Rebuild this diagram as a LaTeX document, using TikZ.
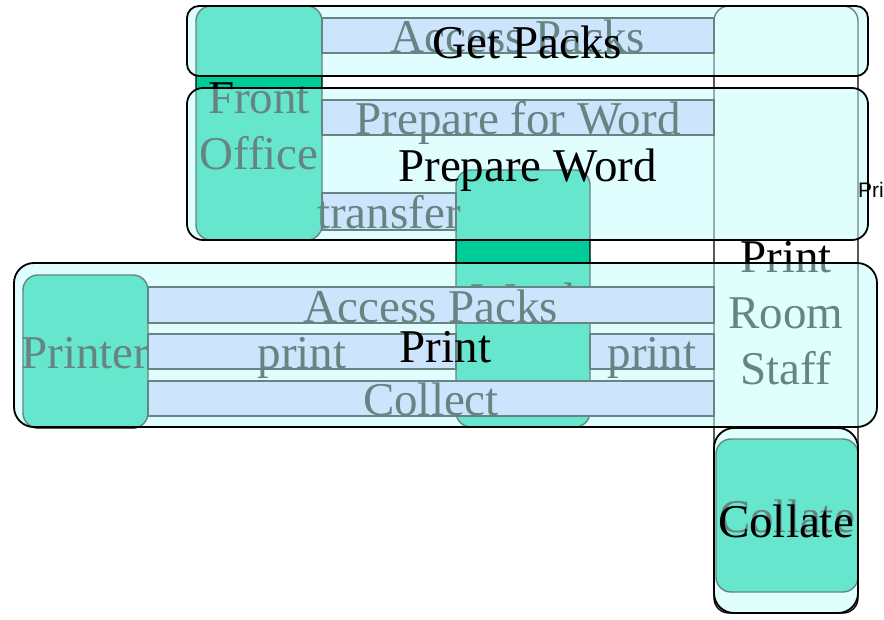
\documentclass[tikz,border=0pt]{standalone}
\usepackage{fontspec}
\setmainfont{Liberation Serif}
\newfontfamily\edgesans{Liberation Sans}
\definecolor{laneteal}{HTML}{00CC99}
\definecolor{actfill}{HTML}{D5CAFF}
\definecolor{grpfill}{HTML}{C4FEFB}
\tikzset{
  bigtext/.style={font=\fontsize{47pt}{56pt}\selectfont, inner sep=0pt, align=center, text=black},
  onelbl/.style={bigtext, text height=44.6pt, text depth=10.3pt},
  stacklbl/.style={bigtext, yshift=-4pt},
  colbox/.style={draw=black, line width=1.4pt, rounded corners=15pt, fill=laneteal},
  staffbox/.style={colbox, fill=white},
  actbox/.style={draw=black, line width=1.4pt, fill=actfill},
  grpbox/.style={draw=black, line width=1.8pt, fill=grpfill, fill opacity=0.52},
  grplbl/.style={onelbl, text opacity=1},
}
\begin{document}
\begin{tikzpicture}[x=1pt, y=-1pt]
\useasboundingbox (0,0) rectangle (884,620);

\draw[colbox] (196,6) rectangle node[stacklbl, yshift=1pt] (frontoffice) {Front\\Office} (322,240);
\draw[colbox] (456,170) rectangle node[onelbl] (word) {Word} (590,427);
\draw[staffbox] (714,6) rectangle node[stacklbl] (printroom) {Print\\Room\\Staff} (858,613);
\draw[colbox] (23,275) rectangle node[onelbl] (printer) {Printer} (148,428);

\draw[actbox] (322,18) rectangle node[onelbl] (accessa) {Access Packs} (714,53);
\draw[actbox] (322,100) rectangle node[onelbl] (prepfor) {Prepare for Word} (714,135);
\draw[actbox] (322,193) rectangle node[onelbl] (transfer) {transfer} (456,230);
\draw[actbox] (148,287) rectangle node[onelbl] (accessb) {Access Packs} (714,323);
\draw[actbox] (148,334) rectangle node[onelbl] (printa) {print} (456,369);
\draw[actbox] (590,334) rectangle node[onelbl] (printb) {print} (714,369);
\draw[actbox] (148,381) rectangle node[onelbl] (collect) {Collect} (714,416);
\draw[colbox] (716,439) rectangle node[onelbl] (collatea) {Collate} (858,592);

\draw[grpbox, rounded corners=12pt] (187,6) rectangle node[grplbl] (getpacks) {Get Packs} (868,76);
\draw[grpbox, rounded corners=16pt] (187,88) rectangle node[grplbl] (prepword) {Prepare Word} (868,240);
\draw[grpbox, rounded corners=20pt] (14,263) rectangle node[grplbl] (printgrp) {Print} (877,427);
\draw[grpbox, rounded corners=20pt] (714,428) rectangle node[grplbl] (collategrp) {Collate} (858,613);

\node[anchor=west, inner sep=0pt, font=\edgesans\fontsize{21pt}{24pt}\selectfont] (edgetext) at (858,190) {Print};

\end{tikzpicture}
\end{document}
